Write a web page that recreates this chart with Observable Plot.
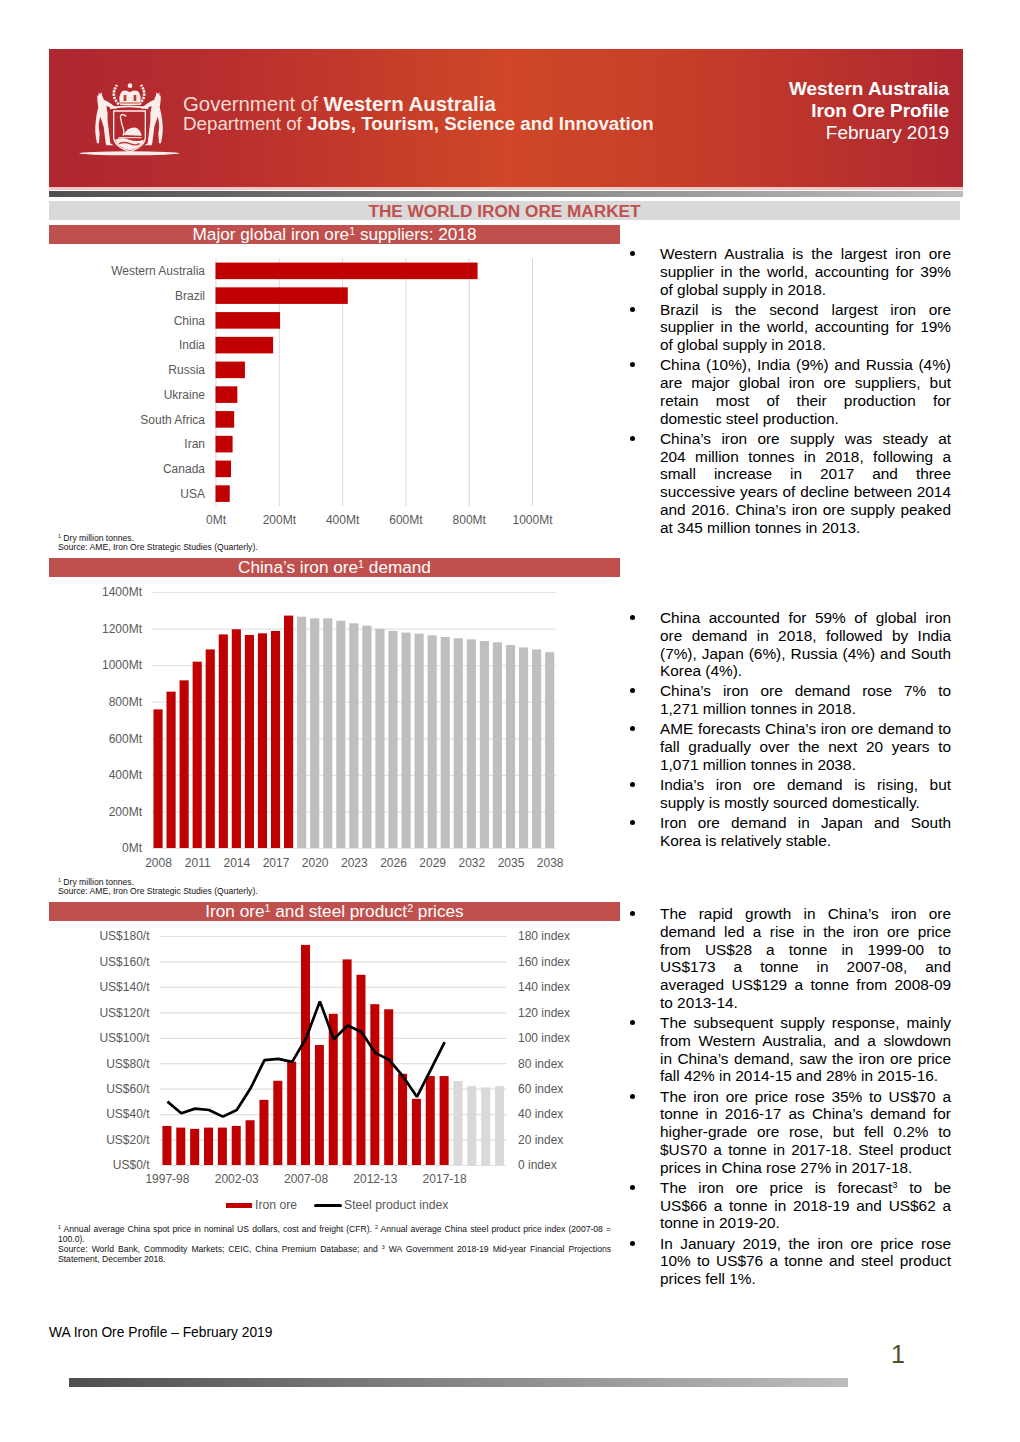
<!DOCTYPE html>
<html><head><meta charset="utf-8">
<script src="https://cdn.jsdelivr.net/npm/d3@7"></script>
<script src="https://cdn.jsdelivr.net/npm/@observablehq/plot@0.6"></script>
<style>
html,body{margin:0;padding:0;background:#fff}
body{width:1020px;height:1442px;position:relative;overflow:hidden;font-family:"Liberation Sans",Arial,sans-serif;color:#000}
.abs{position:absolute}
.hdr{left:49px;top:49px;width:914px;height:138px;background:linear-gradient(90deg,#ae2730 0%,#b92f2e 20%,#cf4727 50%,#c63e29 70%,#ae2730 100%)}
.bar{background:linear-gradient(90deg,#4f4f4f,#bdbdbd)}
.sec{left:49px;width:571px;height:19px;background:#c0504d;color:#fff;text-align:center;font-size:17.2px;line-height:19px}
sup{font-size:.62em;line-height:0;vertical-align:baseline;position:relative;top:-.5em}
.fn{left:58px;width:553px;font-size:8.6px;line-height:10px;color:#111}
.fn.short{line-height:9.4px}
.fn div.j{text-align:justify;text-align-last:justify}
.bl{left:660px;width:291px;font-size:15.4px;line-height:17.8px}
.bl p{margin:0 0 2.3px 0;position:relative}
.bl p::before{content:"";position:absolute;left:-30px;top:6px;width:5px;height:5px;border-radius:50%;background:#000}
.bl .j{text-align:justify;text-align-last:justify;white-space:nowrap}
.chart{position:absolute}
.chart svg{display:block;overflow:visible}
</style></head><body>
<div class="abs hdr"></div>
<svg class="abs" style="left:75px;top:75px" width="110" height="85" viewBox="0 0 330 255" fill="#fbeeea" stroke="none">
  <ellipse cx="163" cy="235" rx="150" ry="6"/>
  <!-- wreath -->
  <path d="M132 88 Q104 62 126 30 M192 88 Q220 62 198 30" fill="none" stroke="#fbeeea" stroke-width="8" stroke-dasharray="7 3"/>
  <!-- crown -->
  <path d="M136 90 Q128 60 142 48 Q155 44 164 52 Q174 44 188 48 Q202 60 194 90 Z"/>
  <circle cx="165" cy="32" r="7"/>
  <path d="M146 60h8v18h-8zM176 60h8v18h-8z" fill="#bf3a2d"/>
  <path d="M136 84h58" stroke="#bf3a2d" stroke-width="3"/>
  <!-- shield -->
  <path d="M105 100 Q160 88 220 100" fill="none" stroke="#fbeeea" stroke-width="5"/>
  <path d="M116 108h95v78q0 28-47 44q-48-16-48-44z" fill="none" stroke="#fbeeea" stroke-width="4"/>
  <path d="M120 194q22-8 43 0t44 0q-4 22-43 32q-38-10-44-32z"/>
  <path d="M132 206q15-7 32 0t30 0" fill="none" stroke="#bf3a2d" stroke-width="4"/>
  <!-- swan -->
  <path d="M154 124q-16-12-18 2q4 22 10 38q2 10-2 18" fill="none" stroke="#fbeeea" stroke-width="4"/>
  <path d="M146 180q12-24 36-22q14 4 18 24z"/>
  <path d="M130 188h70" stroke="#fbeeea" stroke-width="3"/>
  <!-- kangaroos -->
  <g id="k"><path d="M72 60l-3-8 6 5 5-5 1 9 6 14q8 2 30 18l10 2-3 6q-18-2-30-8q6 22 4 46l8 66 10 6h-22l-2-8-6-48-10-30q-8 24-2 50l-2 30h-6q-8-36-4-64q2-24 8-44q-4-22-3-35z"/></g>
  <use href="#k" transform="translate(324,0) scale(-1,1)"/>
</svg>
<div class="abs" style="left:183px;top:93px;font-size:20.4px;line-height:22px;color:#f3dcd4;white-space:nowrap">Government of <b style="color:#fdf3ef">Western Australia</b></div>
<div class="abs" style="left:183px;top:113px;font-size:18.75px;line-height:22px;color:#f3dcd4;white-space:nowrap">Department of <b style="color:#fdf3ef">Jobs, Tourism, Science and Innovation</b></div>
<div class="abs" style="right:71px;top:78px;text-align:right;color:#fff;font-size:18.95px;line-height:22px"><b>Western Australia<br>Iron Ore Profile</b><br>February 2019</div>
<div class="abs" style="left:49px;top:187px;width:914px;height:3px;background:#f0c9c4"></div>
<div class="abs bar" style="left:49px;top:191px;width:914px;height:6px"></div>
<div class="abs" style="left:49px;top:201px;width:911px;height:19px;background:#d9d9d9;color:#c0504d;font-weight:bold;font-size:17.2px;line-height:21px;text-align:center">THE WORLD IRON ORE MARKET</div>
<div class="abs sec" style="top:225px">Major global iron ore<sup>1</sup> suppliers: 2018</div>
<div class="abs sec" style="top:558px">China’s iron ore<sup>1</sup> demand</div>
<div class="abs sec" style="top:902px">Iron ore<sup>1</sup> and steel product<sup>2</sup> prices</div>
<div id="c1" class="chart" style="left:49px;top:250px"></div>
<div id="c2" class="chart" style="left:49px;top:580px"></div>
<div id="c3" class="chart" style="left:49px;top:925px"></div>
<div class="abs fn short" style="top:534px"><sup>1</sup> Dry million tonnes.<br>Source: AME, Iron Ore Strategic Studies (Quarterly).</div>
<div class="abs fn short" style="top:878px"><sup>1</sup> Dry million tonnes.<br>Source: AME, Iron Ore Strategic Studies (Quarterly).</div>
<div class="abs fn" style="top:1223.5px">
<div class="j"><sup>1</sup> Annual average China spot price in nominal US dollars, cost and freight (CFR). <sup>2</sup> Annual average China steel product price index (2007-08 =</div>
<div>100.0).</div>
<div class="j">Source: World Bank, Commodity Markets; CEIC, China Premium Database; and <sup>3</sup> WA Government 2018-19 Mid-year Financial Projections</div>
<div>Statement, December 2018.</div></div>
<div class="abs" style="left:226px;top:1202.5px;width:26px;height:5.5px;background:#c00000"></div>
<div class="abs" style="left:255px;top:1198px;font-size:12.2px;line-height:15px;color:#595959">Iron ore</div>
<div class="abs" style="left:314px;top:1204px;width:28px;height:3px;border-radius:2px;background:#000"></div>
<div class="abs" style="left:344px;top:1198px;font-size:12.2px;line-height:15px;color:#595959">Steel product index</div>
<div id="b1" class="abs bl" style="top:245px"></div>
<div id="b2" class="abs bl" style="top:609px"></div>
<div id="b3" class="abs bl" style="top:905px"></div>
<div class="abs" style="left:49px;top:1325px;font-size:13.8px;line-height:16px">WA Iron Ore Profile – February 2019</div>
<div class="abs" style="left:891px;top:1340px;font-size:25px;line-height:28px;color:#4d5030">1</div>
<div class="abs bar" style="left:69px;top:1378px;width:779px;height:9px"></div>
<script>
// ---- Chart 1: suppliers
const supplierNames=["Western Australia","Brazil","China","India","Russia","Ukraine","South Africa","Iran","Canada","USA"];
const supplierValues=[828,418,204,182,93,69,59,54,49,45];
const supplierTicks=[0,200,400,600,800,1000];
// ---- Chart 2: China demand
const demandYears=[2008,2009,2010,2011,2012,2013,2014,2015,2016,2017,2018,2019,2020,2021,2022,2023,2024,2025,2026,2027,2028,2029,2030,2031,2032,2033,2034,2035,2036,2037,2038];
const demandValues=[758,855,917,1019,1086,1168,1196,1165,1174,1187,1271,1265,1256,1256,1243,1229,1216,1199,1187,1178,1172,1163,1154,1147,1141,1132,1125,1110,1097,1086,1071];
const demandYearTicks=[2008,2011,2014,2017,2020,2023,2026,2029,2032,2035,2038];
const demandValueTicks=[0,200,400,600,800,1000,1200,1400];
const demandLastActual=2018;
// ---- Chart 3: prices
const priceYears=["1997-98","1998-99","1999-00","2000-01","2001-02","2002-03","2003-04","2004-05","2005-06","2006-07","2007-08","2008-09","2009-10","2010-11","2011-12","2012-13","2013-14","2014-15","2015-16","2016-17","2017-18","2018-19","2019-20","2020-21","2021-22"];
const ironOrePrice=[30.7,29.4,28.4,29.4,29.4,30.7,35.2,51.2,66.2,81.2,173,94.3,118.8,161.6,149.5,126.4,122.4,71.7,52,69.9,69.9,66,62,61,62];
const steelIndex=[50.2,41,44.7,43.6,38.4,43.6,60.7,82.8,83.8,81.5,100,129,99.3,110,105,88.5,83,70,54,75.4,97];
const priceYearTicks=["1997-98","2002-03","2007-08","2012-13","2017-18"];
const priceValueTicks=[0,20,40,60,80,100,120,140,160,180];
const priceActualCount=21;

const RED="#c00000";
const baseStyle={fontFamily:"'Liberation Sans',Arial,sans-serif",fontSize:"12px",color:"#595959",background:"transparent",overflow:"visible"};
const zipRows=(k,a,v,b)=>a.map((d,i)=>({[k]:d,[v]:b[i]}));

// Chart 1
const suppliers=zipRows("name",supplierNames,"value",supplierValues);
document.getElementById("c1").append(Plot.plot({
  width:571,height:285,marginLeft:166.5,marginRight:88,marginTop:8.5,marginBottom:29,style:baseStyle,
  x:{domain:[0,1000],label:null},
  y:{domain:supplierNames,paddingInner:.33,paddingOuter:.165,round:false,label:null},
  marks:[
    Plot.ruleX(supplierTicks,{stroke:"#d9d9d9",strokeWidth:1}),
    Plot.barX(suppliers,{x:"value",y:"name",fill:RED}),
    Plot.axisX({ticks:supplierTicks,tickSize:0,tickPadding:9,tickFormat:d=>d+"Mt",label:null}),
    Plot.axisY({tickSize:0,tickPadding:11,label:null})
  ]}));

// Chart 2
const demand=zipRows("year",demandYears,"value",demandValues);
document.getElementById("c2").append(Plot.plot({
  width:571,height:295,marginLeft:102.5,marginRight:63.8,marginTop:12,marginBottom:27,style:baseStyle,
  x:{domain:demandYears,paddingInner:.3,paddingOuter:.15,round:false,label:null},
  y:{domain:[0,1400],label:null},
  marks:[
    Plot.ruleY(demandValueTicks,{stroke:"#e3e3e3",strokeWidth:1.2}),
    Plot.barY(demand.filter(d=>d.year<=demandLastActual),{x:"year",y:"value",fill:RED}),
    Plot.barY(demand.filter(d=>d.year>demandLastActual),{x:"year",y:"value",fill:"#bfbfbf"}),
    Plot.axisX({ticks:demandYearTicks,tickSize:0,tickPadding:10,tickFormat:d=>String(d),label:null}),
    Plot.axisY({ticks:demandValueTicks,tickSize:0,tickPadding:10,tickFormat:d=>d+"Mt",label:null})
  ]}));

// Chart 3
const prices=zipRows("year",priceYears,"value",ironOrePrice);
const steel=zipRows("year",priceYears.slice(0,steelIndex.length),"value",steelIndex);
document.getElementById("c3").append(Plot.plot({
  width:571,height:265,marginLeft:111,marginRight:113.5,marginTop:11,marginBottom:25,style:baseStyle,
  x:{domain:priceYears,paddingInner:.35,paddingOuter:.175,round:false,label:null},
  y:{domain:[0,180],label:null},
  marks:[
    Plot.ruleY(priceValueTicks,{stroke:"#e0e0e0",strokeWidth:1.2}),
    Plot.barY(prices.slice(0,priceActualCount),{x:"year",y:"value",fill:RED}),
    Plot.barY(prices.slice(priceActualCount),{x:"year",y:"value",fill:"#d9d9d9"}),
    Plot.line(steel,{x:"year",y:"value",stroke:"#000",strokeWidth:2.7,strokeLinejoin:"miter",strokeLinecap:"butt"}),
    Plot.axisX({ticks:priceYearTicks,tickSize:0,tickPadding:8.5,label:null}),
    Plot.axisY({ticks:priceValueTicks,tickSize:0,tickPadding:11,tickFormat:d=>"US$"+d+"/t",label:null}),
    Plot.axisY({anchor:"right",ticks:priceValueTicks,tickSize:0,tickPadding:11,tickFormat:d=>d+" index",label:null})
  ]}));

// Commentary text (each inner list holds the lines of one bullet)
const bullets1=[
 ["Western Australia is the largest iron ore","supplier in the world, accounting for 39%","of global supply in 2018."],
 ["Brazil is the second largest iron ore","supplier in the world, accounting for 19%","of global supply in 2018."],
 ["China (10%), India (9%) and Russia (4%)","are major global iron ore suppliers, but","retain most of their production for","domestic steel production."],
 ["China’s iron ore supply was steady at","204 million tonnes in 2018, following a","small increase in 2017 and three","successive years of decline between 2014","and 2016. China’s iron ore supply peaked","at 345 million tonnes in 2013."]];
const bullets2=[
 ["China accounted for 59% of global iron","ore demand in 2018, followed by India","(7%), Japan (6%), Russia (4%) and South","Korea (4%)."],
 ["China’s iron ore demand rose 7% to","1,271 million tonnes in 2018."],
 ["AME forecasts China’s iron ore demand to","fall gradually over the next 20 years to","1,071 million tonnes in 2038."],
 ["India’s iron ore demand is rising, but","supply is mostly sourced domestically."],
 ["Iron ore demand in Japan and South","Korea is relatively stable."]];
const bullets3=[
 ["The rapid growth in China’s iron ore","demand led a rise in the iron ore price","from US$28 a tonne in 1999-00 to","US$173 a tonne in 2007-08, and","averaged US$129 a tonne from 2008-09","to 2013-14."],
 ["The subsequent supply response, mainly","from Western Australia, and a slowdown","in China’s demand, saw the iron ore price","fall 42% in 2014-15 and 28% in 2015-16."],
 ["The iron ore price rose 35% to US$70 a","tonne in 2016-17 as China’s demand for","higher-grade ore rose, but fell 0.2% to","$US70 a tonne in 2017-18. Steel product","prices in China rose 27% in 2017-18."],
 ["The iron ore price is forecast<sup>3</sup> to be","US$66 a tonne in 2018-19 and US$62 a","tonne in 2019-20."],
 ["In January 2019, the iron ore price rose","10% to US$76 a tonne and steel product","prices fell 1%."]];
for(const [id,list] of [["b1",bullets1],["b2",bullets2],["b3",bullets3]]){
  const host=document.getElementById(id);
  for(const lines of list){
    const p=document.createElement("p");
    lines.forEach((l,i)=>{const s=document.createElement("span");s.style.display="block";if(i<lines.length-1)s.className="j";s.innerHTML=l;p.append(s);});
    host.append(p);
  }
}
</script>
</body></html>
